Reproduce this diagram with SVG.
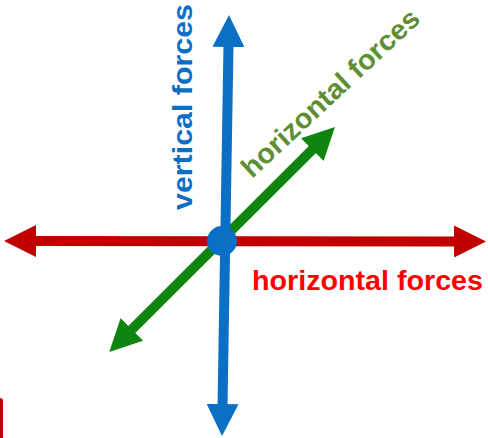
<svg xmlns="http://www.w3.org/2000/svg" width="488" height="438" viewBox="0 0 488 438">
  <style>
    .lbl { font-family: "Liberation Sans", Arial, sans-serif; font-weight: bold; font-size: 28px; }
    .shaft { stroke-width: 10; fill: none; stroke-linecap: butt; }
  </style>
  <defs>
    <marker id="hRed" markerUnits="userSpaceOnUse" viewBox="0 0 32 32" markerWidth="32" markerHeight="32" refX="2" refY="16" orient="auto-start-reverse">
      <path d="M0,0 L32,16 L0,32 z" fill="#c00000"/>
    </marker>
    <marker id="hBlue" markerUnits="userSpaceOnUse" viewBox="0 0 32 32" markerWidth="32" markerHeight="32" refX="2" refY="16" orient="auto-start-reverse">
      <path d="M0,0 L32,16 L0,32 z" fill="#0b6fc6"/>
    </marker>
    <marker id="hGreen" markerUnits="userSpaceOnUse" viewBox="0 0 32 32" markerWidth="32" markerHeight="32" refX="2" refY="16" orient="auto-start-reverse">
      <path d="M0,0 L32,16 L0,32 z" fill="#0f850f"/>
    </marker>
  </defs>

  <rect x="-10" y="398" width="13" height="60" rx="3" fill="#c00000"/>

  <g id="connectors">
    <line id="red-axis" class="shaft" x1="34" y1="241" x2="456" y2="241.5" stroke="#c00000" marker-start="url(#hRed)" marker-end="url(#hRed)"/>
    <line id="green-axis" class="shaft" x1="130.5" y1="330.8" x2="313.7" y2="148.2" stroke="#0f850f" marker-start="url(#hGreen)" marker-end="url(#hGreen)"/>
    <line id="blue-axis" class="shaft" x1="228.5" y1="45" x2="222.5" y2="406" stroke="#0b6fc6" marker-start="url(#hBlue)" marker-end="url(#hBlue)"/>
  </g>

  <g id="origin">
    <circle cx="222" cy="241" r="15" fill="#0b6fc6"/>
  </g>

  <g id="label-vertical">
    <text class="lbl" fill="#0b6fc6" transform="translate(192,210) rotate(-90)" textLength="206" lengthAdjust="spacingAndGlyphs">vertical forces</text>
  </g>
  <g id="label-green">
    <text class="lbl" fill="#5e8f32" transform="translate(252,179) rotate(-43)" textLength="232" lengthAdjust="spacingAndGlyphs">horizontal forces</text>
  </g>
  <g id="label-red">
    <text class="lbl" fill="#ff0000" x="252" y="290" textLength="231" lengthAdjust="spacingAndGlyphs">horizontal forces</text>
  </g>
</svg>
